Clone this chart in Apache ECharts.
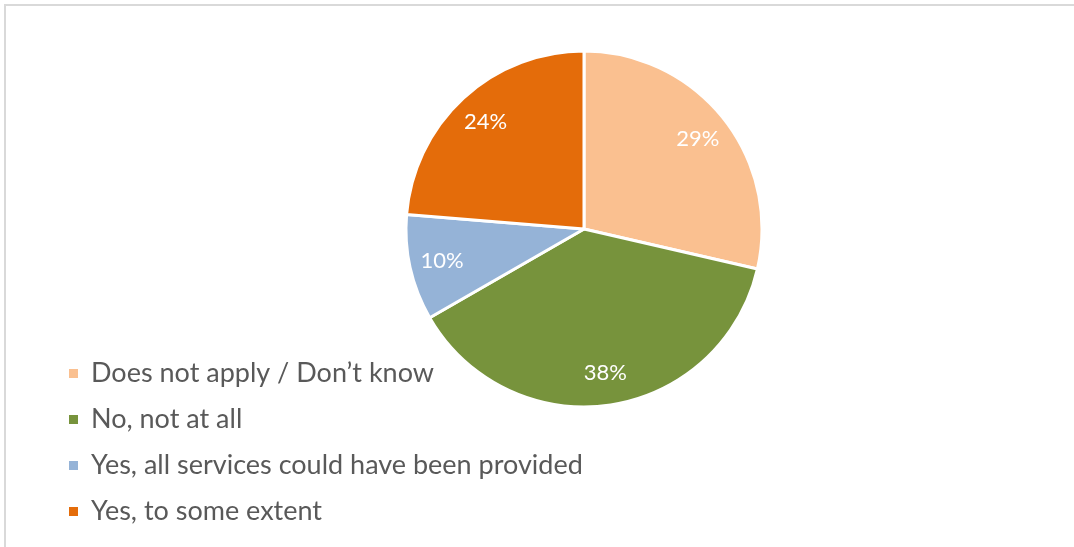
<!DOCTYPE html>
<html>
<head>
<meta charset="utf-8">
<script src="https://cdn.jsdelivr.net/npm/echarts@6/dist/echarts.min.js"></script>
<style>
html,body{margin:0;padding:0;background:#fff;}
#frame{position:absolute;left:4px;top:4px;width:1080px;height:560px;border-left:2px solid #d9d9d9;border-top:2px solid #d9d9d9;box-sizing:border-box;}
#chart{position:absolute;left:0;top:0;width:1074px;height:547px;}
</style>
</head>
<body>
<div id="frame"></div>
<div id="chart"></div>
<script>
const categories = ['Does not apply / Don\u2019t know', 'No, not at all', 'Yes, all services could have been provided', 'Yes, to some extent'];
const values = [28.6, 38.1, 9.6, 23.7];
const colors = ['#FAC090', '#77933C', '#95B3D7', '#E46C0A'];

const chart = echarts.init(document.getElementById('chart'));
const data = categories.map((c, i) => ({ name: c, value: values[i], itemStyle: { color: colors[i] } }));
const cx = 584, cy = 229, R = 178;
const font = 'Lato, "Open Sans", sans-serif';

chart.setOption({
  animation: false,
  legend: {
    orient: 'vertical',
    left: 62,
    top: 355,
    icon: 'rect',
    itemWidth: 11,
    itemHeight: 11,
    itemGap: 19,
    selectedMode: false,
    data: categories,
    textStyle: { fontFamily: font, fontSize: 27, color: '#595959', lineHeight: 27, padding: [0, 0, 0, 7] }
  },
  series: [
    {
      type: 'pie',
      center: [cx, cy],
      radius: [0, R],
      startAngle: 90,
      clockwise: true,
      silent: true,
      itemStyle: { borderColor: '#ffffff', borderWidth: 3 },
      label: { show: false },
      labelLine: { show: false },
      data: data
    },
    {
      type: 'pie',
      center: [cx, cy],
      radius: [R * 0.6, R],
      startAngle: 90,
      clockwise: true,
      silent: true,
      itemStyle: { color: 'rgba(0,0,0,0)', borderWidth: 0 },
      label: {
        show: true,
        position: 'inside',
        color: '#ffffff',
        fontFamily: font,
        fontSize: 22,
        formatter: p => Math.round(p.percent) + '%'
      },
      labelLine: { show: false },
      data: categories.map((c, i) => ({ name: c, value: values[i] }))
    }
  ]
});
</script>
</body>
</html>
